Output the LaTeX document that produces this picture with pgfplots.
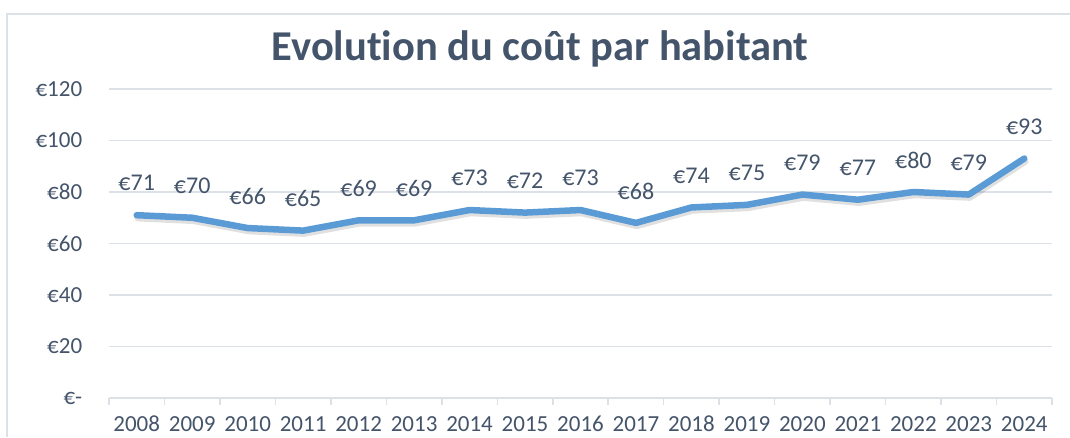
\documentclass[border=0pt]{standalone}
\usepackage{fontspec}
\setmainfont{Carlito}[Ligatures=NoCommon]
\usepackage{pgfplots}
\pgfplotsset{compat=1.18}
\definecolor{linecol}{HTML}{5B9BD5}
\definecolor{titlecol}{HTML}{44546A}
\definecolor{labelcol}{HTML}{44546A}
\definecolor{gridcol}{HTML}{DCE1E8}
\definecolor{framecol}{HTML}{DCE1E8}
\begin{document}
\begin{tikzpicture}[x=1pt,y=1pt]
\useasboundingbox (0,0) rectangle (1070,437);
\draw[framecol, line width=1.5pt] (7,0) -- (7,423) -- (1070,423);
\node[text=titlecol, font=\fontsize{42.5}{46}\selectfont\bfseries] at (540,388) {Evolution du coût par habitant};
\begin{axis}[
  at={(109pt,39pt)}, anchor=south west,
  scale only axis, width=943pt, height=309pt,
  xmin=-0.5, xmax=16.5, ymin=0, ymax=120,
  clip=false,
  axis x line=bottom, axis y line=left,
  x axis line style={gridcol, line width=1.5pt, -},
  y axis line style={draw=none},
  xtick={0,...,16},
  xticklabels={2008,2009,2010,2011,2012,2013,2014,2015,2016,2017,2018,2019,2020,2021,2022,2023,2024},
  minor xtick={-0.5,0.5,...,16.5},
  major x tick style={draw=none},
  minor x tick style={gridcol, line width=1.5pt},
  minor tick length=7pt,
  tick align=outside,
  ytick={0,20,...,120},
  yticklabels={€-,€20,€40,€60,€80,€100,€120},
  major y tick style={draw=none},
  ymajorgrids,
  grid style={gridcol, line width=1.5pt},
  ticklabel style={font=\fontsize{23}{27}\selectfont, text=labelcol},
  xticklabel style={yshift=-11pt, text height=15pt, text depth=0pt},
  yticklabel style={xshift=-19pt},
  /pgf/number format/assume math mode=true,
]
\addplot[no marks, line width=6.5pt, black, opacity=0.12, xshift=1pt, yshift=-3pt, line join=round, line cap=round]
 coordinates {(0,71)(1,70)(2,66)(3,65)(4,69)(5,69)(6,73)(7,72)(8,73)(9,68)(10,74)(11,75)(12,79)(13,77)(14,80)(15,79)(16,93)};
\addplot[no marks, line width=6.5pt, linecol, line join=round, line cap=round,
  nodes near coords={€\pgfmathprintnumber{\pgfplotspointmeta}},
  every node near coord/.append style={anchor=center, yshift=32pt, text=labelcol, font=\fontsize{24}{28}\selectfont, opacity=1},
  point meta=y]
 coordinates {(0,71)(1,70)(2,66)(3,65)(4,69)(5,69)(6,73)(7,72)(8,73)(9,68)(10,74)(11,75)(12,79)(13,77)(14,80)(15,79)(16,93)};
\end{axis}
\end{tikzpicture}
\end{document}
